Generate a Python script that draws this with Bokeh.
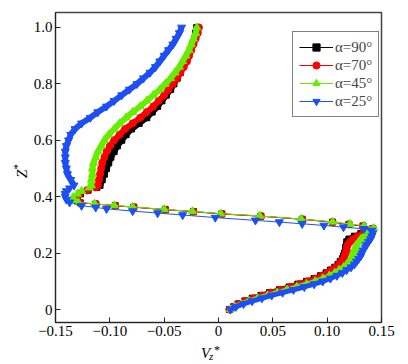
from bokeh.plotting import figure
from bokeh.models import Range1d, FixedTicker, Legend, LegendItem, Div
from bokeh.layouts import row, column
from bokeh.embed import file_html
from bokeh.resources import INLINE

# ---------------- data ----------------
z_top = [1.00, 0.98, 0.96, 0.94, 0.92, 0.90, 0.88, 0.86, 0.84, 0.82, 0.80, 0.78, 0.76, 0.74, 0.72,
         0.70, 0.68, 0.66, 0.64, 0.62, 0.60, 0.58, 0.56, 0.54, 0.52, 0.50, 0.48, 0.46, 0.44]
z_bot = [0.28, 0.27, 0.26, 0.25, 0.24, 0.23, 0.22, 0.21, 0.20, 0.19, 0.18, 0.17, 0.16, 0.15, 0.14,
         0.13, 0.12, 0.11, 0.10, 0.09, 0.08, 0.07, 0.06, 0.05, 0.04, 0.03, 0.02, 0.01, 0.00]

# alpha = 90
x90_top = [-0.020, -0.021, -0.022, -0.024, -0.026, -0.028, -0.030, -0.033, -0.035, -0.038, -0.041,
           -0.044, -0.048, -0.052, -0.056, -0.061, -0.066, -0.073, -0.080, -0.085, -0.089, -0.093,
           -0.096, -0.099, -0.101, -0.103, -0.105, -0.107, -0.109]
x90_mid = [-0.112, -0.120, -0.127, -0.131, -0.130, -0.127, -0.113, -0.095, -0.078, -0.049, -0.023,
           0.003, 0.039, 0.077, 0.105, 0.120, 0.133, 0.142]
z90_mid = [0.433, 0.423, 0.410, 0.397, 0.386, 0.378, 0.374, 0.368, 0.363, 0.354, 0.347,
           0.339, 0.331, 0.320, 0.310, 0.302, 0.296, 0.287]
x90_bot = [0.137, 0.131, 0.125, 0.120, 0.118, 0.118, 0.117, 0.117, 0.116, 0.115, 0.114, 0.112,
           0.110, 0.107, 0.103, 0.099, 0.094, 0.088, 0.081, 0.073, 0.065, 0.056, 0.047, 0.039,
           0.031, 0.024, 0.018, 0.014, 0.010]

# alpha = 70
x70_top = [-0.018, -0.019, -0.021, -0.023, -0.025, -0.027, -0.029, -0.032, -0.035, -0.038, -0.042,
           -0.046, -0.050, -0.055, -0.060, -0.066, -0.072, -0.079, -0.086, -0.091, -0.096, -0.100,
           -0.103, -0.105, -0.107, -0.108, -0.109, -0.110, -0.111]
x70_mid = [-0.113, -0.121, -0.128, -0.131, -0.130, -0.127, -0.113, -0.095, -0.078, -0.049, -0.023,
           0.003, 0.039, 0.077, 0.105, 0.120, 0.133, 0.142]
z70_mid = [0.433, 0.422, 0.410, 0.397, 0.386, 0.378, 0.374, 0.368, 0.363, 0.354, 0.347,
           0.339, 0.331, 0.320, 0.310, 0.302, 0.296, 0.287]
x70_bot = [0.138, 0.133, 0.128, 0.124, 0.121, 0.119, 0.118, 0.118, 0.117, 0.116, 0.115, 0.113,
           0.111, 0.108, 0.104, 0.100, 0.095, 0.089, 0.082, 0.074, 0.066, 0.057, 0.048, 0.040,
           0.032, 0.024, 0.018, 0.014, 0.010]

# alpha = 45
x45_top = [-0.020, -0.021, -0.023, -0.025, -0.027, -0.030, -0.033, -0.036, -0.040, -0.044, -0.049,
           -0.054, -0.060, -0.066, -0.072, -0.079, -0.085, -0.091, -0.096, -0.101, -0.105, -0.108,
           -0.111, -0.113, -0.115, -0.116, -0.116, -0.117, -0.117]
x45_mid = [-0.119, -0.126, -0.130, -0.134, -0.133, -0.129, -0.114, -0.096, -0.079, -0.050, -0.024,
           0.002, 0.038, 0.076, 0.105, 0.121, 0.134, 0.143]
z45_mid = [0.432, 0.420, 0.410, 0.398, 0.388, 0.380, 0.375, 0.369, 0.364, 0.355, 0.348,
           0.340, 0.332, 0.321, 0.311, 0.303, 0.297, 0.288]
x45_bot = [0.140, 0.137, 0.134, 0.131, 0.129, 0.127, 0.126, 0.125, 0.124, 0.123, 0.122, 0.120,
           0.118, 0.115, 0.111, 0.107, 0.102, 0.096, 0.089, 0.081, 0.072, 0.063, 0.054, 0.045,
           0.036, 0.028, 0.021, 0.015, 0.011]

# alpha = 25
x25_top = [-0.034, -0.036, -0.039, -0.042, -0.046, -0.050, -0.054, -0.058, -0.063, -0.069, -0.075,
           -0.082, -0.089, -0.096, -0.103, -0.111, -0.118, -0.126, -0.132, -0.136, -0.138, -0.140,
           -0.141, -0.141, -0.141, -0.140, -0.139, -0.136, -0.133]
x25_mid = [-0.137, -0.140, -0.141, -0.141, -0.140, -0.137, -0.126, -0.113, -0.103, -0.079, -0.056,
           -0.033, -0.003, 0.034, 0.056, 0.077, 0.097, 0.115, 0.134]
z25_mid = [0.430, 0.420, 0.410, 0.400, 0.390, 0.380, 0.368, 0.362, 0.357, 0.349, 0.342,
           0.335, 0.326, 0.316, 0.310, 0.304, 0.298, 0.292, 0.286]
x25_bot = [0.141, 0.142, 0.141, 0.140, 0.138, 0.136, 0.135, 0.133, 0.132, 0.131, 0.129, 0.127,
           0.125, 0.122, 0.118, 0.114, 0.109, 0.103, 0.096, 0.088, 0.079, 0.069, 0.059, 0.049,
           0.040, 0.031, 0.023, 0.016, 0.011]

labels = ["α=90°", "α=70°", "α=45°", "α=25°"]
x_ticks = [-0.15, -0.10, -0.05, 0.0, 0.05, 0.10, 0.15]
x_tick_labels = ["\u22120.15", "\u22120.10", "\u22120.05", "0", "0.05", "0.10", "0.15"]
y_ticks = [0.0, 0.2, 0.4, 0.6, 0.8, 1.0]
y_tick_labels = ["0", "0.2", "0.4", "0.6", "0.8", "1.0"]

# ---------------- figure ----------------
FONT = "Liberation Serif"
p = figure(width=370, height=345, output_backend="svg", toolbar_location=None,
           x_range=Range1d(-0.15, 0.15), y_range=Range1d(-0.046, 1.053),
           min_border_left=25, min_border_right=19, min_border_top=12, min_border_bottom=23)
p.grid.visible = False
p.background_fill_color = "white"
p.border_fill_color = "white"
p.outline_line_color = "#444444"
p.outline_line_width = 1.5

p.xaxis.ticker = FixedTicker(ticks=x_ticks)
p.xaxis.major_label_overrides = {t: l for t, l in zip(x_ticks, x_tick_labels)}
p.yaxis.ticker = FixedTicker(ticks=y_ticks)
p.yaxis.major_label_overrides = {t: l for t, l in zip(y_ticks, y_tick_labels)}
for ax in (p.xaxis[0], p.yaxis[0]):
    ax.major_tick_in = 5
    ax.major_tick_out = 0
    ax.minor_tick_line_color = None
    ax.major_label_text_font = FONT
    ax.major_label_text_font_size = "15px"
    ax.major_label_text_color = "black"
    ax.axis_line_color = "#222222"
    ax.major_tick_line_color = "#222222"
    ax.major_label_standoff = 3

series = [
    (x90_top, x90_mid, z90_mid, x90_bot, "#000000", "square", 6),
    (x70_top, x70_mid, z70_mid, x70_bot, "#FF0000", "circle", 7),
    (x45_top, x45_mid, z45_mid, x45_bot, "#66EE00", "triangle", 8),
    (x25_top, x25_mid, z25_mid, x25_bot, "#1E4FF5", "inverted_triangle", 8),
]

items = []
for (xt, xm, zm, xb, col, mk, sz), lab in zip(series, labels):
    xs = xt + xm + xb
    zs = z_top + zm + z_bot
    p.line(xt, z_top, line_color=col, line_width=6)
    p.line(xb, z_bot, line_color=col, line_width=5)
    ln = p.line(xs, zs, line_color=col, line_width=1)
    sc = p.scatter(xs, zs, marker=mk, size=sz, fill_color=col, line_color=col)
    items.append(LegendItem(label=lab, renderers=[ln, sc]))

legend = Legend(items=items, location=(237, 205), orientation="vertical")
legend.label_text_font = FONT
legend.label_text_font_size = "15px"
legend.label_height = 18
legend.glyph_height = 18
legend.glyph_width = 34
legend.label_standoff = 2
legend.spacing = 0
legend.padding = 6
legend.margin = 0
legend.border_line_color = "black"
legend.border_line_width = 1
legend.background_fill_color = "white"
legend.background_fill_alpha = 1.0
p.add_layout(legend)

# axis titles (with sub/superscripts) as HTML text
ydiv = Div(width=30, height=364, margin=0, text=(
    '<div style="position:relative;width:30px;height:364px;font-family:\'Liberation Serif\';color:black;">'
    '<div style="position:absolute;left:21px;top:171px;transform:translate(-50%,-50%) rotate(-90deg);'
    'white-space:nowrap;font-size:15px;line-height:1;"><i>Z</i><sup style="font-size:11px;">*</sup></div>'
    '</div>'))
xdiv = Div(width=370, height=19, margin=0, text=(
    '<div style="position:relative;width:370px;height:19px;font-family:\'Liberation Serif\';color:black;">'
    '<span style="position:absolute;left:171px;top:1px;font-size:15px;line-height:1;font-style:italic;">V</span>'
    '<span style="position:absolute;left:179px;top:6px;font-size:11px;line-height:1;font-style:italic;">z</span>'
    '<span style="position:absolute;left:184px;top:-1px;font-size:12px;line-height:1;">*</span>'
    '</div>'))

layout = row(ydiv, column(p, xdiv, spacing=0), spacing=0)
open("out.html", "w").write(file_html(layout, INLINE))
